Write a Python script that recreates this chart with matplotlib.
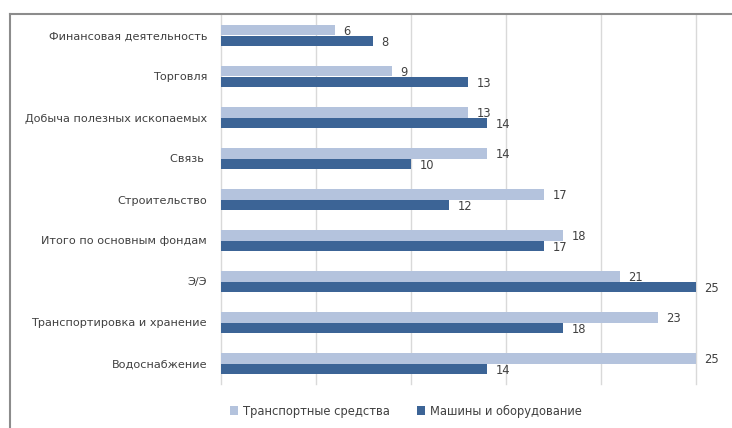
import numpy as np
import matplotlib
matplotlib.use("Agg")
import matplotlib.pyplot as plt
from matplotlib.lines import Line2D

categories = [
    "Финансовая деятельность",
    "Торговля",
    "Добыча полезных ископаемых",
    "Связь ",
    "Строительство",
    "Итого по основным фондам",
    "Э/Э",
    "Транспортировка и хранение",
    "Водоснабжение",
]
transport = [6, 9, 13, 14, 17, 18, 21, 23, 25]
machines = [8, 13, 14, 10, 12, 17, 25, 18, 14]

LIGHT = "#B4C3DD"
DARK = "#3C6496"
TEXT = "#404040"

plt.rcParams["font.family"] = ["DejaVu Sans"]

fig = plt.figure(figsize=(7.32, 4.28), dpi=100)
ax = fig.add_axes([221 / 732, 1 - 384 / 428, 475 / 732, 369 / 428])

y = np.arange(len(categories))
h = 0.26
b1 = ax.barh(y - h / 2, transport, height=h, color=LIGHT, label="Транспортные средства", zorder=3)
b2 = ax.barh(y + h / 2, machines, height=h, color=DARK, label="Машины и оборудование", zorder=3)

for bars, vals in ((b1, transport), (b2, machines)):
    for bar, v in zip(bars, vals):
        ax.annotate(str(v), (v, bar.get_y() + bar.get_height() / 2),
                    xytext=(6, -1), textcoords="offset points",
                    va="center", ha="left", fontsize=8.3, color=TEXT)

ax.set_xlim(0, 25)
ax.set_ylim(len(categories) - 0.5, -0.5)
ax.set_xticks(range(0, 26, 5))
ax.set_xticklabels([])
ax.tick_params(axis="x", length=0)
ax.set_yticks(y)
ax.set_yticklabels(categories, fontsize=8.1, color=TEXT)
ax.tick_params(axis="y", length=0, pad=10)
ax.grid(axis="x", color="#D9D9D9", linewidth=1, zorder=0)
for gl in ax.get_xgridlines():
    gl.set_clip_on(False)
for s in ax.spines.values():
    s.set_visible(False)

ax.legend(loc="center", bbox_to_anchor=(406 / 732, 1 - 411 / 428),
          bbox_transform=fig.transFigure, ncol=2, frameon=False,
          fontsize=8.3, handlelength=0.7, handleheight=0.7, handletextpad=0.4,
          columnspacing=2.4, labelcolor=TEXT)

# outer chart frame, cut off at right and bottom
fig.add_artist(Line2D([10 / 732, 1.0], [1 - 14 / 428] * 2, color="#8C8C8C", linewidth=1.5))
fig.add_artist(Line2D([10 / 732] * 2, [0.0, 1 - 14 / 428], color="#8C8C8C", linewidth=1.5))

fig.savefig("out.png", dpi=100)
